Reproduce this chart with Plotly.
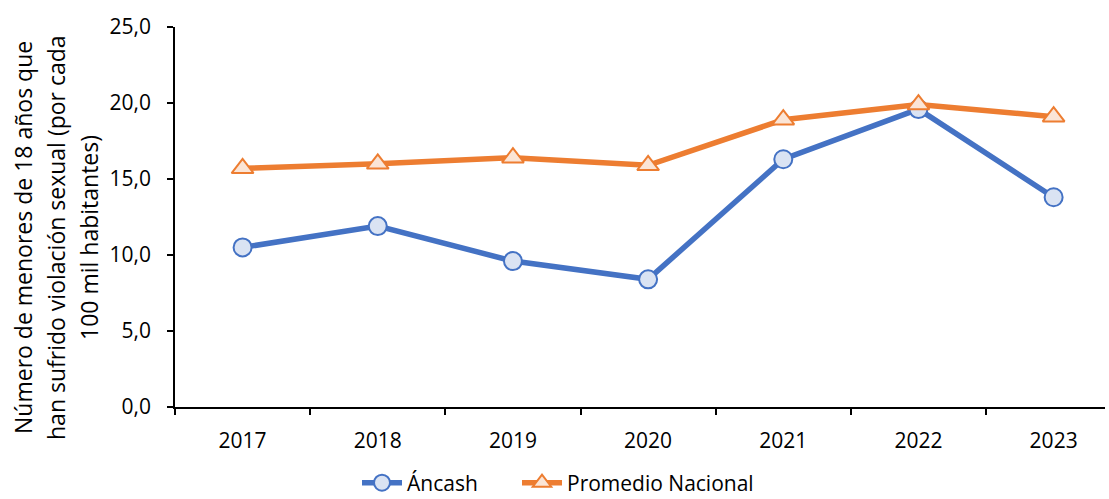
import plotly.graph_objects as go

years = ["2017", "2018", "2019", "2020", "2021", "2022", "2023"]
ancash = [10.5, 11.9, 9.6, 8.4, 16.3, 19.6, 13.8]
promedio = [15.7, 16.0, 16.4, 15.9, 18.9, 19.9, 19.1]
y_ticks = [0, 5, 10, 15, 20, 25]
y_title_lines = ["Número de menores de 18 años que",
                 "han sufrido violación sexual (por cada",
                 "100 mil habitantes)"]

xpos = list(range(len(years)))
FONT = "Open Sans"

fig = go.Figure()
fig.add_trace(go.Scatter(
    x=xpos, y=ancash, name="Áncash", mode="lines+markers",
    line=dict(color="#4472C4", width=5.5),
    marker=dict(symbol="circle", size=18, color="#DAE3F3",
                line=dict(color="#4472C4", width=2)),
    legend="legend",
))
fig.add_trace(go.Scatter(
    x=xpos, y=promedio, name="Promedio Nacional", mode="lines+markers",
    line=dict(color="#ED7D31", width=5.5),
    marker=dict(symbol="triangle-up", size=19, color="#FBE5D6",
                line=dict(color="#ED7D31", width=2)),
    legend="legend2",
))

legend_common = dict(orientation="h", xref="container", yref="container",
                     yanchor="middle", y=0.032, xanchor="left",
                     font=dict(size=21), itemwidth=40,
                     bgcolor="rgba(0,0,0,0)")

fig.update_layout(
    width=1109, height=499,
    margin=dict(l=175, r=4, t=27, b=92),
    plot_bgcolor="white", paper_bgcolor="white",
    font=dict(family=FONT, size=21, color="#000000"),
    separators=",.",
    showlegend=True,
    legend=dict(x=357 / 1109, **legend_common),
    legend2=dict(x=517 / 1109, **legend_common),
)

# rotated y-axis title, one annotation per line
for line_text, px in zip(y_title_lines, [23, 56, 89]):
    fig.add_annotation(
        text=line_text, textangle=-90, showarrow=False,
        xref="paper", yref="paper",
        x=(px - 175) / 930, y=(407 - 238) / 380,
        xanchor="center", yanchor="middle",
        font=dict(size=23, family=FONT, color="#000000"),
    )

fig.update_xaxes(
    range=[-0.5, 6.38], tickvals=xpos, ticktext=years,
    ticks="", showgrid=False, zeroline=False,
    showline=True, linecolor="#000000", linewidth=1.5,
    ticklabelstandoff=14,
    minor=dict(tickvals=[i - 0.5 for i in range(len(years) + 1)],
               ticks="outside", ticklen=6, tickcolor="#000000", tickwidth=1.5),
)
fig.update_yaxes(
    range=[0, 25], tickvals=y_ticks, tickformat=".1f",
    ticks="outside", ticklen=6, tickcolor="#000000", tickwidth=1.5,
    showgrid=False, zeroline=False,
    showline=True, linecolor="#000000", linewidth=1.5,
    ticklabelstandoff=12,
)

fig.write_html("out.html")
